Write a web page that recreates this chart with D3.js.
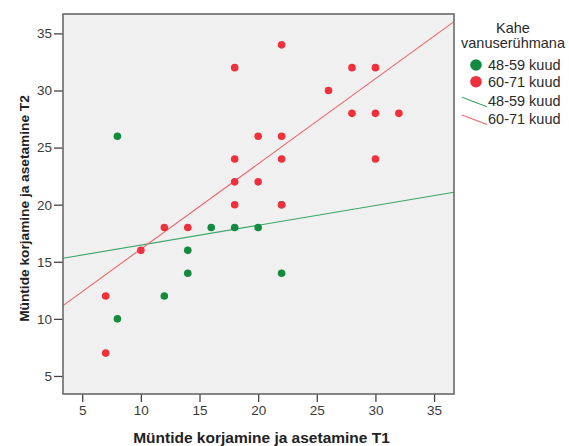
<!DOCTYPE html>
<html>
<head>
<meta charset="utf-8">
<script src="https://cdn.jsdelivr.net/npm/d3@7"></script>
<style>
  html, body { margin: 0; padding: 0; background: #ffffff; }
  svg { display: block; font-family: "Liberation Sans", Arial, sans-serif; }
</style>
</head>
<body>
<svg id="chart" width="569" height="446"></svg>
<script>
// ---- data ----
const groups = ["48-59 kuud", "60-71 kuud"];
const groupColors = ["#128a40", "#f0303c"];
const lineColors = ["#3aa566", "#f2636c"];

// group 48-59 kuud: [T1, T2]
const pointsYounger = [
  [8, 26], [8, 10], [12, 12], [14, 16], [14, 14],
  [16, 18], [18, 18], [20, 18], [22, 14], [22, 20]
];
// group 60-71 kuud: [T1, T2]
const pointsOlder = [
  [7, 12], [7, 7], [10, 16], [12, 18], [14, 18],
  [18, 32], [18, 24], [18, 22], [18, 20],
  [20, 26], [20, 22],
  [22, 34], [22, 26], [22, 24], [22, 20],
  [26, 30], [28, 32], [28, 28],
  [30, 32], [30, 28], [30, 24], [32, 28]
];
// fit lines: endpoints [T1, T2]
const fitYounger = [[3.36, 15.31], [36.7, 21.09]];
const fitOlder = [[3.36, 11.16], [36.7, 36.03]];

const xTicks = [5, 10, 15, 20, 25, 30, 35];
const yTicks = [5, 10, 15, 20, 25, 30, 35];
const xDomain = [3.36, 36.7];
const yDomain = [3.42, 36.7];

const xTitle = "Müntide korjamine ja asetamine T1";
const yTitle = "Müntide korjamine ja asetamine T2";
const legendTitle = ["Kahe", "vanuserühmana"];

// ---- layout ----
const svg = d3.select("#chart");
const plot = { left: 63, right: 454, top: 14, bottom: 394 };

const x = d3.scaleLinear().domain(xDomain).range([plot.left, plot.right]);
const y = d3.scaleLinear().domain(yDomain).range([plot.bottom, plot.top]);

// background
svg.append("rect")
  .attr("x", plot.left).attr("y", plot.top)
  .attr("width", plot.right - plot.left)
  .attr("height", plot.bottom - plot.top)
  .attr("fill", "#f0f0f0");

svg.append("defs").append("clipPath").attr("id", "clip")
  .append("rect")
  .attr("x", plot.left).attr("y", plot.top)
  .attr("width", plot.right - plot.left)
  .attr("height", plot.bottom - plot.top);

// axes
const xAxis = d3.axisBottom(x).tickValues(xTicks).tickSize(8).tickPadding(3).tickSizeOuter(0);
const yAxis = d3.axisLeft(y).tickValues(yTicks).tickSize(9).tickPadding(2).tickSizeOuter(0);

const gx = svg.append("g").attr("transform", `translate(0,${plot.bottom})`).call(xAxis);
const gy = svg.append("g").attr("transform", `translate(${plot.left},0)`).call(yAxis);
[gx, gy].forEach(g => {
  g.select(".domain").remove();
  g.selectAll(".tick line").attr("stroke", "#444").attr("stroke-width", 1.3);
  g.selectAll(".tick text")
    .attr("fill", "#3a3a3a")
    .style("font-size", "13.5px")
    .style("font-family", "'Liberation Sans', Arial, sans-serif");
});

// fit lines
const lineGen = d3.line().x(d => x(d[0])).y(d => y(d[1]));
const plotArea = svg.append("g").attr("clip-path", "url(#clip)");
[fitYounger, fitOlder].forEach((f, i) => {
  plotArea.append("path")
    .attr("d", lineGen(f))
    .attr("fill", "none")
    .attr("stroke", lineColors[i])
    .attr("stroke-width", 1.1);
});

// points
[pointsYounger, pointsOlder].forEach((pts, i) => {
  plotArea.selectAll(null)
    .data(pts)
    .enter().append("circle")
    .attr("cx", d => x(d[0]))
    .attr("cy", d => y(d[1]))
    .attr("r", 3.8)
    .attr("fill", groupColors[i]);
});

// frame
svg.append("rect")
  .attr("x", plot.left).attr("y", plot.top)
  .attr("width", plot.right - plot.left)
  .attr("height", plot.bottom - plot.top)
  .attr("fill", "none")
  .attr("stroke", "#6a6a6a")
  .attr("stroke-width", 1.6);

// axis titles
svg.append("text")
  .attr("x", (plot.left + plot.right) / 2 + 3)
  .attr("y", 443)
  .attr("text-anchor", "middle")
  .style("font-size", "15.5px")
  .style("font-weight", "bold")
  .attr("fill", "#222")
  .text(xTitle);

svg.append("text")
  .attr("transform", `translate(29,${208.5}) rotate(-90)`)
  .attr("text-anchor", "middle")
  .style("font-size", "13.7px")
  .style("font-weight", "bold")
  .attr("fill", "#222")
  .text(yTitle);

// legend
const lg = svg.append("g");
legendTitle.forEach((t, i) => {
  lg.append("text")
    .attr("x", 513).attr("y", 33 + i * 15)
    .attr("text-anchor", "middle")
    .style("font-size", "14.5px")
    .attr("fill", "#2a2a2a")
    .text(t);
});
groups.forEach((g, i) => {
  const cy = 65 + i * 16.7;
  lg.append("circle").attr("cx", 476).attr("cy", cy).attr("r", 5.8).attr("fill", groupColors[i]);
  lg.append("text").attr("x", 488).attr("y", cy + 5)
    .style("font-size", "14.5px").attr("fill", "#2a2a2a").text(g);
});
groups.forEach((g, i) => {
  const y0 = 97.3 + i * 17.7;
  lg.append("line")
    .attr("x1", 462).attr("y1", y0)
    .attr("x2", 487).attr("y2", y0 + 9.4)
    .attr("stroke", lineColors[i]).attr("stroke-width", 1.1);
  lg.append("text").attr("x", 488).attr("y", y0 + 9)
    .style("font-size", "14.5px").attr("fill", "#2a2a2a").text(g);
});
</script>
</body>
</html>
